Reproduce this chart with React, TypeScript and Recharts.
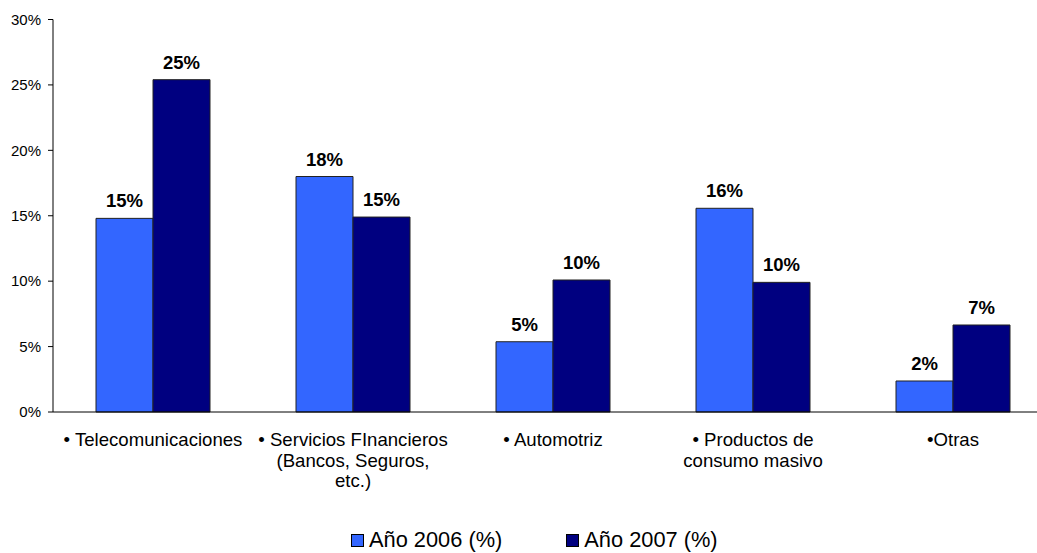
import React from "react";
import { BarChart, Bar, XAxis, YAxis, Legend, LabelList } from "recharts";

const categories = [
  ["• Telecomunicaciones"],
  ["• Servicios FInancieros", "(Bancos, Seguros,", "etc.)"],
  ["• Automotriz"],
  ["• Productos de", "consumo masivo"],
  ["•Otras"],
];
const year2006 = [14.8, 18.0, 5.37, 15.57, 2.37];
const year2007 = [25.4, 14.9, 10.09, 9.91, 6.65];
const yTicks = [0, 5, 10, 15, 20, 25, 30];
const separatorTicks = [0, 1, 2, 3, 4, 5];

const series = [
  { key: "y2006", name: "Año 2006 (%)", color: "#3366FF" },
  { key: "y2007", name: "Año 2007 (%)", color: "#000080" },
];

const data = categories.map((lines, i) => ({
  name: lines.join("\n"),
  idx: i,
  y2006: year2006[i],
  y2007: year2007[i],
}));

const FONT = '"Liberation Sans", Arial, sans-serif';

const CategoryTick = (props: any) => {
  const { x, y, payload } = props;
  const lines = categories[payload.index] ?? String(payload.value).split("\n");
  return (
    <g transform={`translate(${x},${y})`}>
      <text textAnchor="middle" fontFamily={FONT} fontSize={18.6} fill="#000">
        {lines.map((l: string, i: number) => (
          <tspan key={i} x={0} y={34 + i * 20.5}>
            {l}
          </tspan>
        ))}
      </text>
    </g>
  );
};

const LegendContent = () => (
  <div
    style={{
      height: 30,
      paddingTop: 4,
      boxSizing: "border-box",
      display: "flex",
      alignItems: "center",
      fontFamily: FONT,
      fontSize: 21.8,
      color: "#000",
    }}
  >
    {series.map((s, i) => (
      <div
        key={s.key}
        style={{ display: "flex", alignItems: "center", marginLeft: i === 0 ? 351 : 64 }}
      >
        <span
          style={{
            width: 13,
            height: 13,
            background: s.color,
            border: "1px solid #000",
            boxSizing: "border-box",
            marginRight: 5,
            display: "inline-block",
          }}
        />
        <span>{s.name}</span>
      </div>
    ))}
  </div>
);

export default function App() {
  return (
    <div
      style={{
        position: "fixed",
        top: 0,
        left: 0,
        width: 1037,
        height: 553,
        overflow: "hidden",
        background: "#fff",
      }}
    >
      <BarChart
        width={1058}
        height={553}
        data={data}
        margin={{ top: 19.5, right: 5, left: 0, bottom: 0 }}
        barSize={57}
        barGap={0}
      >
        <XAxis
          xAxisId="sep"
          type="number"
          domain={[0, 5]}
          ticks={separatorTicks}
          height={0}
          axisLine={false}
          tick={false}
          tickSize={5}
          tickLine={{ stroke: "#000" }}
        />
        <XAxis
          xAxisId="cat"
          dataKey="name"
          height={111}
          interval={0}
          tickLine={false}
          tickSize={0}
          tickMargin={0}
          axisLine={{ stroke: "#000" }}
          tick={<CategoryTick />}
        />
        <YAxis
          width={53}
          domain={[0, 30]}
          ticks={yTicks}
          tickFormatter={(v: number) => `${v}%`}
          axisLine={{ stroke: "#000" }}
          tickLine={{ stroke: "#000" }}
          tickSize={5}
          tickMargin={7}
          tick={{ fill: "#000", fontSize: 15, fontFamily: FONT }}
        />
        <Legend verticalAlign="bottom" content={<LegendContent />} />
        {series.map((s) => (
          <Bar
            key={s.key}
            xAxisId="cat"
            dataKey={s.key}
            name={s.name}
            fill={s.color}
            stroke="#222"
            strokeWidth={1}
            isAnimationActive={false}
          >
            <LabelList
              dataKey={s.key}
              position="top"
              offset={11}
              formatter={(v: any) => `${Math.round(Number(v))}%`}
              style={{ fontFamily: FONT, fontSize: 18.5, fontWeight: "bold", fill: "#000" }}
            />
          </Bar>
        ))}
      </BarChart>
    </div>
  );
}
